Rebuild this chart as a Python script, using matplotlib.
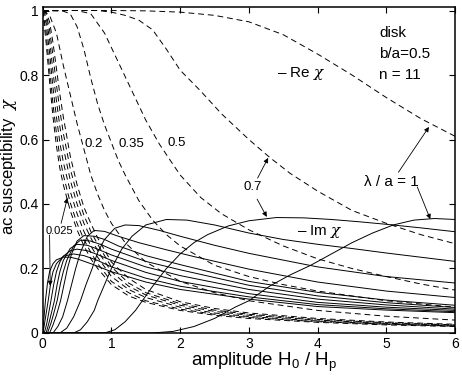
import numpy as np
import matplotlib
matplotlib.use('Agg')
import matplotlib.pyplot as plt
from matplotlib.ticker import FuncFormatter, MultipleLocator

plt.rcParams['font.family'] = ['Liberation Sans', 'DejaVu Sans']
plt.rcParams['mathtext.fontset'] = 'custom'
plt.rcParams['mathtext.rm'] = 'Liberation Sans'
plt.rcParams['mathtext.it'] = 'DejaVu Serif:italic'
plt.rcParams['mathtext.default'] = 'regular'

# lambda / a values of the 11 curve pairs
lam = [0.025, 0.05, 0.075, 0.1, 0.125, 0.15, 0.2, 0.35, 0.5, 0.7, 1.0]

# -Re chi (dashed), small lambda curves share one x grid
re_x_small = [0, 0.05, 0.1, 0.15, 0.2, 0.25, 0.3, 0.4, 0.5, 0.6, 0.7, 0.8, 1.0,
              1.25, 1.5, 2, 2.5, 3, 4, 5, 6]
re_y_0025 = [1, 0.9, 0.78, 0.67, 0.58, 0.51, 0.46, 0.38, 0.32, 0.27, 0.23, 0.2, 0.15,
             0.115, 0.095, 0.07, 0.055, 0.045, 0.033, 0.025, 0.02]
re_y_005 = [1, 0.93, 0.82, 0.71, 0.62, 0.545, 0.49, 0.405, 0.34, 0.29, 0.25, 0.215, 0.16,
            0.125, 0.1, 0.074, 0.058, 0.048, 0.035, 0.027, 0.021]
re_y_0075 = [1, 0.96, 0.87, 0.76, 0.67, 0.59, 0.53, 0.44, 0.37, 0.315, 0.27, 0.235, 0.175,
             0.135, 0.11, 0.08, 0.062, 0.051, 0.037, 0.028, 0.022]
re_y_01 = [1, 0.98, 0.91, 0.81, 0.72, 0.64, 0.575, 0.475, 0.4, 0.34, 0.295, 0.255, 0.19,
           0.145, 0.118, 0.086, 0.067, 0.055, 0.04, 0.03, 0.024]
re_y_0125 = [1, 0.99, 0.94, 0.86, 0.77, 0.69, 0.62, 0.51, 0.43, 0.365, 0.315, 0.275, 0.205,
             0.155, 0.125, 0.091, 0.071, 0.058, 0.042, 0.032, 0.025]
re_y_015 = [1, 0.995, 0.965, 0.9, 0.82, 0.74, 0.67, 0.55, 0.46, 0.39, 0.34, 0.295, 0.22,
            0.17, 0.135, 0.097, 0.076, 0.062, 0.045, 0.034, 0.027]

re_x_02 = [0, 0.1, 0.2, 0.3, 0.4, 0.5, 0.6, 0.7, 0.8, 0.9, 1.0, 1.2, 1.5, 2, 2.5, 3, 4, 5, 6]
re_y_02 = [1, 0.985, 0.93, 0.83, 0.74, 0.65, 0.57, 0.49, 0.43, 0.38, 0.34, 0.28, 0.22, 0.16,
           0.125, 0.1, 0.07, 0.052, 0.04]
re_x_035 = [0, 0.3, 0.4, 0.5, 0.6, 0.7, 0.8, 0.9, 1.0, 1.1, 1.2, 1.4, 1.6, 1.8, 2.0, 2.5, 3,
            3.5, 4, 5, 6]
re_y_035 = [1, 0.998, 0.99, 0.95, 0.88, 0.79, 0.71, 0.645, 0.59, 0.535, 0.49, 0.41, 0.35,
            0.305, 0.27, 0.21, 0.175, 0.15, 0.13, 0.1, 0.08]
re_x_05 = [0, 0.5, 0.7, 0.9, 1.1, 1.3, 1.5, 1.7, 2.0, 2.3, 2.6, 3.0, 3.5, 4, 4.5, 5, 5.5, 6]
re_y_05 = [1, 1, 0.99, 0.93, 0.84, 0.75, 0.66, 0.585, 0.49, 0.42, 0.37, 0.32, 0.27, 0.23,
           0.2, 0.175, 0.152, 0.133]
re_x_07 = [0, 0.8, 1.0, 1.2, 1.4, 1.6, 1.8, 2.0, 2.3, 2.6, 3.0, 3.3, 3.6, 4, 4.5, 5, 5.5, 6]
re_y_07 = [1, 1, 0.995, 0.985, 0.97, 0.94, 0.88, 0.815, 0.75, 0.68, 0.6, 0.545, 0.495, 0.44,
           0.38, 0.34, 0.305, 0.277]
re_x_1 = [0, 1, 1.5, 2, 2.5, 3, 3.5, 4, 4.5, 5, 5.5, 6]
re_y_1 = [1, 1, 0.999, 0.995, 0.985, 0.965, 0.925, 0.865, 0.8, 0.73, 0.665, 0.61]

# -Im chi (solid)
im_x_0025 = [0, 0.02, 0.04, 0.07, 0.1, 0.15, 0.2, 0.3, 0.4, 0.5, 0.7, 1.0, 1.5, 2, 3, 4, 5, 6]
im_y_0025 = [0, 0.05, 0.1, 0.155, 0.19, 0.215, 0.227, 0.235, 0.235, 0.23, 0.215, 0.19, 0.158,
             0.135, 0.105, 0.082, 0.071, 0.063]
im_x_005 = [0, 0.02, 0.05, 0.08, 0.12, 0.15, 0.2, 0.3, 0.45, 0.6, 0.8, 1.0, 1.5, 2, 3, 4, 5, 6]
im_y_005 = [0, 0.02, 0.06, 0.1, 0.16, 0.19, 0.215, 0.238, 0.245, 0.24, 0.225, 0.205, 0.17,
            0.145, 0.112, 0.088, 0.075, 0.066]
im_x_0075 = [0, 0.03, 0.06, 0.09, 0.12, 0.16, 0.2, 0.25, 0.3, 0.4, 0.5, 0.65, 0.8, 1.0, 1.5,
             2, 3, 4, 5, 6]
im_y_0075 = [0, 0.005, 0.03, 0.065, 0.1, 0.15, 0.19, 0.22, 0.238, 0.255, 0.26, 0.255, 0.243,
             0.225, 0.188, 0.16, 0.122, 0.095, 0.08, 0.07]
im_x_01 = [0, 0.05, 0.09, 0.13, 0.17, 0.21, 0.25, 0.3, 0.4, 0.5, 0.65, 0.8, 1.0, 1.5, 2, 3,
           4, 5, 6]
im_y_01 = [0, 0.0, 0.03, 0.065, 0.1, 0.15, 0.19, 0.225, 0.262, 0.275, 0.272, 0.26, 0.242,
           0.205, 0.178, 0.135, 0.105, 0.087, 0.074]
im_x_0125 = [0, 0.07, 0.12, 0.16, 0.21, 0.26, 0.3, 0.35, 0.45, 0.55, 0.7, 0.85, 1.0, 1.5, 2,
             3, 4, 5, 6]
im_y_0125 = [0, 0.0, 0.03, 0.06, 0.1, 0.155, 0.19, 0.225, 0.27, 0.288, 0.285, 0.274, 0.26,
             0.222, 0.196, 0.148, 0.115, 0.094, 0.079]
im_x_015 = [0, 0.1, 0.15, 0.2, 0.26, 0.31, 0.36, 0.42, 0.5, 0.6, 0.75, 0.9, 1.1, 1.5, 2, 3,
            4, 5, 6]
im_y_015 = [0, 0.0, 0.025, 0.055, 0.1, 0.15, 0.2, 0.245, 0.285, 0.302, 0.3, 0.29, 0.27,
            0.24, 0.212, 0.16, 0.126, 0.102, 0.086]
im_x_02 = [0, 0.15, 0.22, 0.29, 0.36, 0.42, 0.48, 0.55, 0.65, 0.75, 0.9, 1.1, 1.4, 1.8, 2.2,
           3, 4, 5, 6]
im_y_02 = [0, 0.0, 0.02, 0.05, 0.1, 0.15, 0.2, 0.25, 0.3, 0.318, 0.315, 0.3, 0.28, 0.258,
           0.237, 0.198, 0.158, 0.13, 0.11]
im_x_035 = [0, 0.25, 0.35, 0.45, 0.55, 0.63, 0.72, 0.8, 0.9, 1.05, 1.2, 1.4, 1.7, 2, 2.5, 3,
            4, 5, 6]
im_y_035 = [0, 0.0, 0.015, 0.05, 0.1, 0.15, 0.2, 0.25, 0.29, 0.325, 0.335, 0.333, 0.318,
            0.3, 0.272, 0.247, 0.205, 0.175, 0.155]
im_x_05 = [0, 0.45, 0.55, 0.65, 0.75, 0.8, 0.9, 1.0, 1.15, 1.3, 1.5, 1.8, 2.1, 2.5, 3, 3.5,
           4, 4.5, 5, 5.5, 6]
im_y_05 = [0, 0.0, 0.01, 0.035, 0.07, 0.1, 0.15, 0.2, 0.26, 0.3, 0.335, 0.352, 0.35, 0.335,
           0.31, 0.29, 0.275, 0.262, 0.248, 0.235, 0.222]
im_x_07 = [0, 0.9, 1.05, 1.2, 1.35, 1.45, 1.6, 1.8, 2.0, 2.2, 2.4, 2.7, 3.0, 3.4, 3.8, 4.2,
           4.6, 5, 5.5, 6]
im_y_07 = [0, 0.0, 0.01, 0.035, 0.07, 0.1, 0.145, 0.2, 0.245, 0.28, 0.305, 0.332, 0.348,
           0.358, 0.357, 0.352, 0.345, 0.337, 0.326, 0.314]
im_x_1 = [0, 1.6, 1.9, 2.2, 2.5, 2.8, 3.0, 3.3, 3.6, 3.9, 4.2, 4.5, 4.8, 5.1, 5.4, 5.7, 6]
im_y_1 = [0, 0.0, 0.005, 0.02, 0.045, 0.08, 0.1, 0.145, 0.18, 0.21, 0.245, 0.28, 0.31,
          0.335, 0.35, 0.355, 0.352]

re_curves = [(re_x_small, re_y_0025), (re_x_small, re_y_005), (re_x_small, re_y_0075),
             (re_x_small, re_y_01), (re_x_small, re_y_0125), (re_x_small, re_y_015),
             (re_x_02, re_y_02), (re_x_035, re_y_035), (re_x_05, re_y_05),
             (re_x_07, re_y_07), (re_x_1, re_y_1)]
im_curves = [(im_x_0025, im_y_0025), (im_x_005, im_y_005), (im_x_0075, im_y_0075),
             (im_x_01, im_y_01), (im_x_0125, im_y_0125), (im_x_015, im_y_015),
             (im_x_02, im_y_02), (im_x_035, im_y_035), (im_x_05, im_y_05),
             (im_x_07, im_y_07), (im_x_1, im_y_1)]

fig = plt.figure(figsize=(4.62, 3.76), dpi=100)
ax = fig.add_axes([0.0924, 0.1144, 0.8926, 0.8662])

for x, y in re_curves:
    ax.plot(x, y, color='k', lw=0.7, linestyle=(0, (6, 4)))
for x, y in im_curves:
    ax.plot(x, y, color='k', lw=0.7)

ax.set_xlim(0, 6)
ax.set_ylim(0, 1.01)
ax.xaxis.set_major_locator(MultipleLocator(1))
ax.yaxis.set_major_locator(MultipleLocator(0.2))
ax.yaxis.set_major_formatter(FuncFormatter(lambda v, p: '%g' % round(v, 2)))
ax.tick_params(direction='in', top=True, right=True, length=4, width=0.8,
               labelsize=10, pad=3)
for s in ax.spines.values():
    s.set_linewidth(1.1)

chi = r'$\mathit{\chi}$'
ax.set_xlabel('amplitude H$_0$ / H$_p$', fontsize=13.5)
ax.xaxis.set_label_coords(0.537, -0.056)
ax.set_ylabel('ac susceptibility  ' + chi, fontsize=12)
ax.yaxis.set_label_coords(-0.057, 0.513)

fs = 9.5
ax.text(4.9, 0.93, 'disk', fontsize=11, va='center')
ax.text(4.9, 0.865, 'b/a=0.5', fontsize=11, va='center')
ax.text(4.9, 0.80, 'n = 11', fontsize=11, va='center')
ax.text(3.41, 0.806, '\u2013 Re ' + chi, fontsize=11, va='center')
ax.text(3.70, 0.316, '\u2013 Im ' + chi, fontsize=11, va='center')

ax.text(0.61, 0.586, '0.2', fontsize=fs, va='center')
ax.text(1.10, 0.586, '0.35', fontsize=fs, va='center')
ax.text(1.81, 0.589, '0.5', fontsize=fs, va='center')

arrow = dict(arrowstyle='-|>', lw=0.6, color='k', mutation_scale=7, shrinkA=0, shrinkB=0)
ax.annotate('0.7', xy=(3.28, 0.543), xytext=(3.06, 0.453), fontsize=fs,
            ha='center', va='center', arrowprops=arrow)
ax.annotate('', xy=(3.26, 0.36), xytext=(3.12, 0.415), arrowprops=arrow)
ax.annotate('\u03bb / a = 1', xy=(5.62, 0.639), xytext=(5.08, 0.468), fontsize=11,
            ha='center', va='center', arrowprops=arrow)
ax.annotate('', xy=(5.64, 0.353), xytext=(5.45, 0.453), arrowprops=arrow)
ax.annotate('0.025', xy=(0.36, 0.419), xytext=(0.24, 0.316), fontsize=8,
            ha='center', va='center', arrowprops=arrow)
ax.annotate('', xy=(0.11, 0.146), xytext=(0.1, 0.304), arrowprops=arrow)

fig.savefig('out.png', dpi=100)
